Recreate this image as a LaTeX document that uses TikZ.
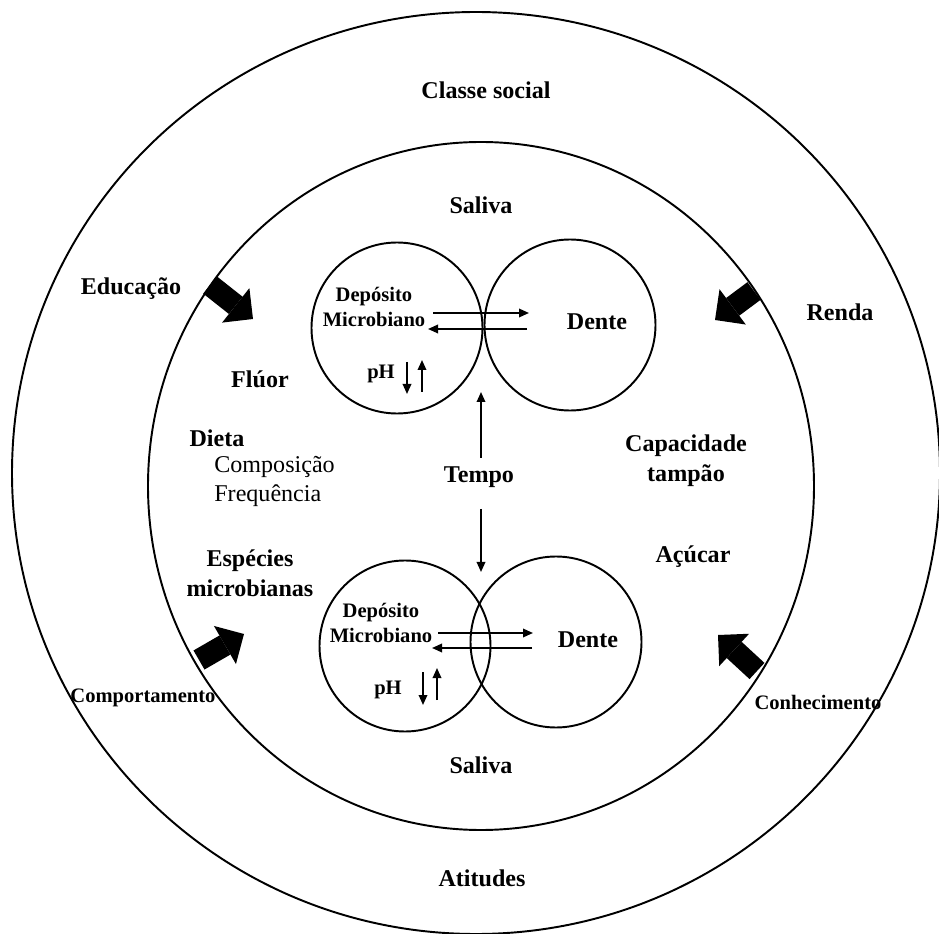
\documentclass[tikz,border=0pt]{standalone}
\usepackage{fontspec}
\setmainfont{Liberation Serif}
\usetikzlibrary{arrows.meta,positioning,shapes.geometric}
\tikzset{
    ring/.style={line width=1.1pt},
    lobe/.style={circle, draw, line width=1.1pt, minimum size=3.42cm, inner sep=0pt},
    lbl/.style={font=\bfseries\fontsize{13.7}{17}\selectfont, inner sep=1pt, align=center},
    sml/.style={font=\bfseries\fontsize{11.7}{14}\selectfont, inner sep=1pt, align=center},
    txt/.style={font=\fontsize{13.7}{17}\selectfont, anchor=west, inner sep=0pt},
    flow/.style={-{Triangle[length=2mm,width=1.7mm]}, line width=1pt},
    push/.style={-{Triangle[length=4.4mm,width=8.8mm,line width=0pt]}, line width=4.4mm}
}

\begin{document}
\begin{tikzpicture}[x=0.2mm,y=-0.2mm]
      \useasboundingbox (0,0) rectangle (939,934);

      % rings
      \draw[ring] (476,473) ellipse [x radius=464, y radius=461];
      \draw[ring] (481,486) ellipse [x radius=333, y radius=344];

      % lobes
      \node[lobe] (dep1) at (397,328) {};
      \node[lobe] (den1) at (570,325) {};
      \node[lobe] (dep2) at (405,646) {};
      \node[lobe] (den2) at (556,642) {};

      % outer ring labels
      \node[lbl] (classe) at (486,90) {Classe social};
      \node[lbl] (educ) at (131,289) {Educação};
      \node[lbl] (renda) at (840,312) {Renda};
      \node[sml] (comport) at (143,698) {Comportamento};
      \node[sml] (conhec) at (818,702) {Conhecimento};
      \node[lbl] (atitudes) at (482,878) {Atitudes};

      % inner ring labels
      \node[lbl] (saliva1) at (481,205) {Saliva};
      \node[lbl] (fluor) at (260,379) {Flúor};
      \node[lbl] (dieta) at (217,438) {Dieta};
      \node[txt] (compos) at (214,467) {Composição};
      \node[txt] (freq) at (214,496) {Frequência};
      \node[lbl] (tempo) at (479,477) {Tempo};
      \node[lbl] (tampao) at (686,461) {Capacidade\\tampão};
      \node[lbl] (especies) at (250,573) {Espécies\\microbianas};
      \node[lbl] (acucar) at (693,557) {Açúcar};
      \node[lbl] (saliva2) at (481,765) {Saliva};

      % inside the lobes
      \node[sml] (mic1) at (374,307) {Depósito\\Microbiano};
      \node[lbl] (dente1) at (597,322) {Dente};
      \node[sml] (ph1) at (381,374) {pH};
      \node[sml] (mic2) at (381,623) {Depósito\\Microbiano};
      \node[lbl] (dente2) at (588,640) {Dente};
      \node[sml] (ph2) at (388,690) {pH};

      \coordinate (ra1) at (433,313); \coordinate (rb1) at (529,313);
      \coordinate (la1) at (527,329); \coordinate (lb1) at (428,329);
      \coordinate (ra2) at (438,633); \coordinate (rb2) at (533,633);
      \coordinate (la2) at (532,648); \coordinate (lb2) at (432,648);
      \draw[flow] (ra1) -- (rb1);
      \draw[flow] (la1) -- (lb1);
      \draw[flow] (ra2) -- (rb2);
      \draw[flow] (la2) -- (lb2);

      \coordinate (pd1) at (407,362); \coordinate (pe1) at (407,394);
      \coordinate (pu1) at (422,392); \coordinate (pv1) at (422,360);
      \coordinate (pd2) at (423,672); \coordinate (pe2) at (423,705);
      \coordinate (pu2) at (437,700); \coordinate (pv2) at (437,668);
      \draw[flow] (pd1) -- (pe1);
      \draw[flow] (pu1) -- (pv1);
      \draw[flow] (pd2) -- (pe2);
      \draw[flow] (pu2) -- (pv2);

      % time
      \coordinate (t0) at (481,458); \coordinate (t1) at (481,392);
      \coordinate (t2) at (481,509); \coordinate (t3) at (481,572);
      \draw[flow] (t0) -- (t1);
      \draw[flow] (t2) -- (t3);

      % big arrows
      \coordinate (e0) at (210,285); \coordinate (e1) at (253,319);
      \coordinate (r0) at (754,291); \coordinate (r1) at (715,320);
      \coordinate (c0) at (199,660); \coordinate (c1) at (244,634);
      \coordinate (k0) at (757,671); \coordinate (k1) at (718,635);
      \draw[push] (e0) -- (e1);
      \draw[push] (r0) -- (r1);
      \draw[push] (c0) -- (c1);
      \draw[push] (k0) -- (k1);
\end{tikzpicture}
\end{document}
